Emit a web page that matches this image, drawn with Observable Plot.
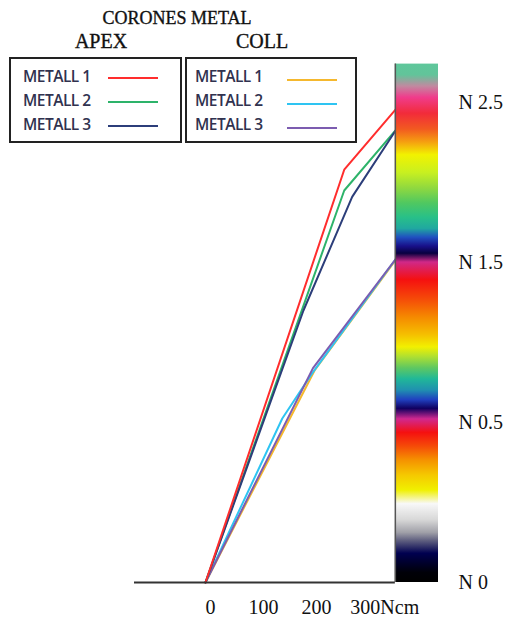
<!DOCTYPE html>
<html>
<head>
<meta charset="utf-8">
<script src="https://cdn.jsdelivr.net/npm/d3@7"></script>
<script src="https://cdn.jsdelivr.net/npm/@observablehq/plot@0.6"></script>
<style>
  html, body { margin: 0; padding: 0; background: #fff; }
  #wrap { position: relative; width: 507px; height: 618px; overflow: hidden; }
  #chart { position: absolute; left: 0; top: 0; }
  .ttl { position: absolute; font-family: "Liberation Serif", serif; color: #111; white-space: nowrap; transform: translate(-50%, -50%); -webkit-text-stroke: 0.35px #111; }
  .box { position: absolute; top: 57px; height: 82px; border: 2px solid #222; box-sizing: content-box; }
  .row { position: absolute; height: 24px; left: 0; right: 0; }
  .row span { position: absolute; top: 50%; transform: translateY(-50%); font-family: "Open Sans", sans-serif; font-weight: 600; font-size: 15.5px; letter-spacing: -0.5px; color: #30324f; white-space: nowrap; }
  .row i { position: absolute; top: 50%; height: 2px; margin-top: 1px; }
</style>
</head>
<body>
<div id="wrap">
  <div id="chart"></div>
</div>
<script>
// ---- data ----
const chartTitle = "CORONES METAL";
const groups = ["APEX", "COLL"];
const metals = ["METALL 1", "METALL 2", "METALL 3"];
const apexColors = ["#ff2d2d", "#2db36a", "#2c3e7a"];
const collColors = ["#f5b82e", "#2ec4f2", "#7c5cb0"];

// APEX series (x in Ncm, y in N)
const apex1X = [0, 262, 360];
const apex1Y = [0, 2.08, 2.46];
const apex2X = [0, 262, 360];
const apex2Y = [0, 1.95, 2.33];
const apex3X = [0, 185, 277, 360];
const apex3Y = [0, 1.2, 1.91, 2.33];
// COLL series
const coll1X = [0, 206, 360];
const coll1Y = [0, 0.825, 1.52];
const coll2X = [0, 145, 202, 360];
const coll2Y = [0, 0.525, 0.81, 1.525];
const coll3X = [0, 203, 360];
const coll3Y = [0, 0.84, 1.525];

// axis ticks (the vertical axis has evenly spaced ticks 0, 0.5, 1.5, 2.5)
const xTicks = [0, 100, 200, 300];
const xTickLabels = ["0", "100", "200", "300Ncm"];
const yTicks = [0, 0.5, 1.5, 2.5];

// colour bar stops (value in N, colour)
const barStops = [2.74, 2.67, 2.60, 2.53, 2.43, 2.33, 2.25, 2.17, 2.06, 1.96, 1.87, 1.78, 1.71, 1.655, 1.60, 1.555, 1.50, 1.39, 1.27, 1.155, 1.045, 0.97, 0.91, 0.84, 0.77, 0.70, 0.64, 0.585, 0.52, 0.4675, 0.425, 0.3825, 0.335, 0.2875, 0.245, 0.195, 0.155, 0.13, 0.09, 0.03, 0];
const barColors = ["#5ec79b", "#62c49a", "#c08aa0", "#f03c8c", "#f22b3a", "#f25a20", "#f5a010", "#f2f200", "#c8f020", "#8ed840", "#50c860", "#28c088", "#20a8a0", "#2050c0", "#18108a", "#080040", "#d02888", "#f51010", "#f54a08", "#f58a00", "#f5c000", "#f2f000", "#b0e030", "#60c860", "#20b898", "#2090b0", "#2040c0", "#100060", "#d02890", "#f51010", "#f54a08", "#f59000", "#f5c800", "#f0f000", "#f8f8f8", "#d8d8d8", "#a0a0a8", "#606080", "#000050", "#000008", "#000000"];

// ---- build ----
const toRows = (xs, ys) => xs.map((x, i) => ({x, y: ys[i]}));
const apexSeries = [toRows(apex1X, apex1Y), toRows(apex2X, apex2Y), toRows(apex3X, apex3Y)];
const collSeries = [toRows(coll1X, coll1Y), toRows(coll2X, coll2Y), toRows(coll3X, coll3Y)];
const barTop = barStops[0];

// piecewise vertical axis: evenly spaced ticks at 0, 0.5, 1.5, 2.5
const yT = v => (v <= 0.5 ? 2 * v : v + 0.5);

const lineMarks = [];
collSeries.forEach((s, i) => lineMarks.push(Plot.line(s, {x: "x", y: "y", stroke: collColors[i], strokeWidth: 2})));
[1, 2, 0].forEach(i => lineMarks.push(Plot.line(apexSeries[i], {x: "x", y: "y", stroke: apexColors[i], strokeWidth: 2})));

const svg = Plot.plot({
  width: 507,
  height: 618,
  marginLeft: 134,
  marginRight: 69,
  marginTop: 62,
  marginBottom: 36,
  style: {fontFamily: "Liberation Serif, serif", fontSize: "20px", background: "transparent", overflow: "visible", color: "#111"},
  x: {domain: [-134, 440], axis: null},
  y: {transform: yT, domain: [0, 3.25], axis: null},
  marks: [
    ...lineMarks,
    Plot.rect([0], {x1: 358.5, x2: 440, y1: 0, y2: barTop, fill: "url(#cbar)"}),
    Plot.ruleX([358.5], {y1: 0, y2: barTop, stroke: "#555", strokeWidth: 1.5}),
    Plot.ruleY([0], {x1: -134, x2: 358.5, stroke: "#333", strokeWidth: 2}),
    Plot.text(yTicks, {x: 440, y: d => d, text: d => "N " + d, dx: 20, textAnchor: "start", fontSize: 20, fill: "#111"}),
    Plot.text(xTicks.slice(0, 3), {x: d => d, y: 0, text: (d, i) => xTickLabels[i], dy: 25, dx: 5, fontSize: 20, fill: "#111"}),
    Plot.text(xTicks.slice(3), {x: d => d, y: 0, text: (d, i) => xTickLabels[3 + i], dy: 25, dx: -14, textAnchor: "start", fontSize: 20, fill: "#111"})
  ]
});

// gradient for colour bar, offsets follow the same vertical scale
const tTop = yT(barTop);
const defs = d3.select(svg).insert("defs", ":first-child");
const grad = defs.append("linearGradient").attr("id", "cbar")
  .attr("x1", 0).attr("y1", 0).attr("x2", 0).attr("y2", 1);
barStops.forEach((v, i) => {
  grad.append("stop").attr("offset", ((tTop - yT(v)) / tTop).toFixed(4)).attr("stop-color", barColors[i]);
});

document.getElementById("chart").appendChild(svg);

// ---- title and legend (HTML overlay) ----
const wrap = document.getElementById("wrap");
function addText(txt, cx, cy, size) {
  const d = document.createElement("div");
  d.className = "ttl";
  d.textContent = txt;
  d.style.left = cx + "px";
  d.style.top = cy + "px";
  d.style.fontSize = size + "px";
  wrap.appendChild(d);
}
addText(chartTitle, 177, 18, 18);
addText(groups[0], 101, 41, 20);
addText(groups[1], 262, 41, 20);

function addBox(left, width, colors, textLeft, lineLeft, lineDy) {
  const box = document.createElement("div");
  box.className = "box";
  box.style.left = left + "px";
  box.style.width = width + "px";
  metals.forEach((m, i) => {
    const row = document.createElement("div");
    row.className = "row";
    row.style.top = (5 + i * 24) + "px";
    const sp = document.createElement("span");
    sp.textContent = m;
    sp.style.left = textLeft + "px";
    const ln = document.createElement("i");
    ln.style.left = lineLeft + "px";
    ln.style.width = "50px";
    ln.style.background = colors[i];
    ln.style.marginTop = lineDy + "px";
    row.appendChild(sp);
    row.appendChild(ln);
    box.appendChild(row);
  });
  wrap.appendChild(box);
}
addBox(9, 169, apexColors, 12, 97, 1);
addBox(185, 168, collColors, 8, 100, 3);
</script>
</body>
</html>
